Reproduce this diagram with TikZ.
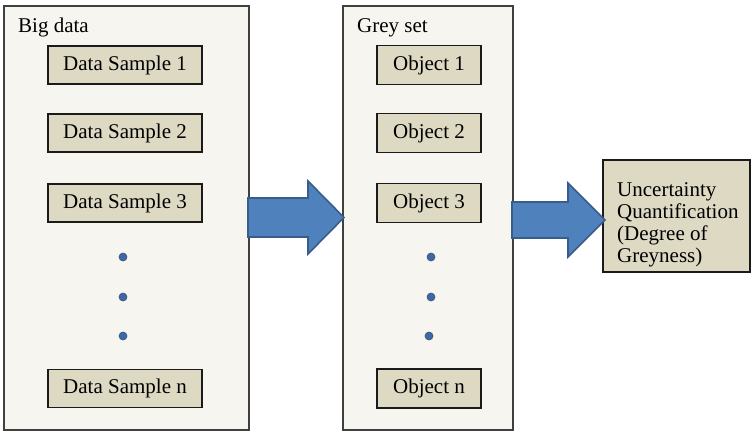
\documentclass[tikz,border=0pt]{standalone}
\usepackage{fontspec}
\setmainfont{Liberation Serif}
\usetikzlibrary{positioning}
\definecolor{panelfill}{HTML}{F6F5F0}
\definecolor{panelline}{HTML}{404040}
\definecolor{boxfill}{HTML}{DDD9C3}
\definecolor{boxline}{HTML}{1A1A1A}
\definecolor{arrowfill}{HTML}{4F81BD}
\definecolor{arrowline}{HTML}{385D8A}
\definecolor{dotfill}{HTML}{3F67A3}
\tikzset{
  panel/.style={draw=panelline, fill=panelfill, line width=1.2pt},
  itembox/.style={draw=boxline, fill=boxfill, line width=1.1pt, inner sep=0pt,
    font=\fontsize{21}{22}\selectfont},
  dsbox/.style={itembox, minimum width=154pt, minimum height=38pt},
  objbox/.style={itembox, minimum width=104pt, minimum height=39pt},
  title/.style={anchor=base west, inner sep=0pt, font=\fontsize{21}{22}\selectfont},
  blockarrow/.style={fill=arrowfill, draw=arrowline, line width=1.6pt, line join=miter},
  dot/.style={circle, fill=dotfill, draw=dotfill!80!black, line width=0.6pt, inner sep=0pt, minimum size=8pt}
}
\begin{document}
\begin{tikzpicture}[x=1pt,y=-1pt]
\useasboundingbox (0,0) rectangle (751,431);
% panels
\draw[panel] (4,6) rectangle (249,430);
\draw[panel] (343,6) rectangle (513,430);
\node[title] (bigdata) at (18,32) {Big data};
\node[title] (greyset) at (357,32) {Grey set};
% left boxes
\node[dsbox] (ds1) at (125,65) {Data Sample 1};
\node[dsbox] (ds2) at (125,133) {Data Sample 2};
\node[dsbox] (ds3) at (125,203) {Data Sample 3};
\node[dsbox] (dsn) at (125,388.5) {Data Sample n};
% middle boxes
\node[objbox] (o1) at (429,65) {Object 1};
\node[objbox] (o2) at (429,133) {Object 2};
\node[objbox] (o3) at (429,203) {Object 3};
\node[objbox] (on) at (429,388.5) {Object n};
% dots
\node[dot] (ld1) at (123,257) {};
\node[dot] (ld2) at (123,297) {};
\node[dot] (ld3) at (123,336) {};
\node[dot] (md1) at (431,257) {};
\node[dot] (md2) at (431,297) {};
\node[dot] (md3) at (429,336) {};
% right box
\draw[draw=boxline, fill=boxfill, line width=1.1pt] (603,160) rectangle (750,272);
\node[anchor=north west, inner sep=0pt, align=left, font=\fontsize{21}{21.2}\selectfont] (uq) at (617,182)
  {Uncertainty\\[0.8pt]Quantification\\[0.8pt](Degree of\\[0.8pt]Greyness)};
% block arrows
\draw[blockarrow] (248,198) -- (308,198) -- (308,181) -- (344,217.5) -- (308,254) -- (308,237) -- (248,237) -- cycle;
\draw[blockarrow] (512,202) -- (568,202) -- (568,183) -- (605,220) -- (568,257) -- (568,238) -- (512,238) -- cycle;
\end{tikzpicture}
\end{document}
